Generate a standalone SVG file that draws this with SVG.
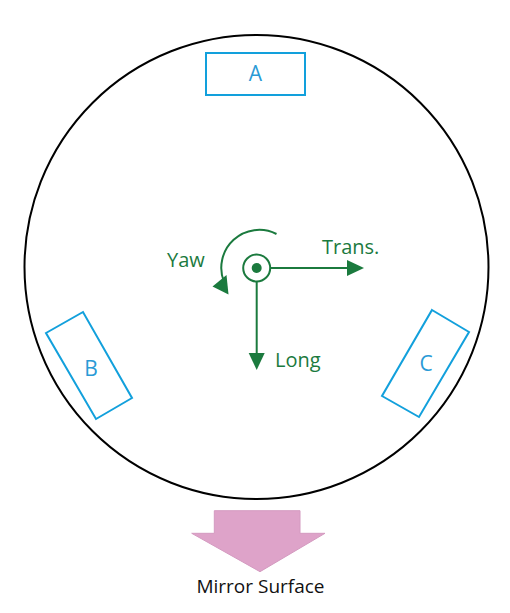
<svg xmlns="http://www.w3.org/2000/svg" width="510" height="613" viewBox="0 0 510 613">
<defs>
<style>
.box{fill:none;stroke:#12a0dc;stroke-width:2}
.blbl{font-family:"Open Sans","Noto Sans",sans-serif;font-size:21px;fill:#2a9ad6;text-anchor:middle}
.g{stroke:#1b7a3e;stroke-width:2;fill:none}
.glbl{font-family:"Open Sans","Noto Sans",sans-serif;font-size:20px;fill:#1b7a3e}
</style>
</defs>
<rect width="510" height="613" fill="#fff"/>
<g id="frame"><circle cx="256.5" cy="267" r="232" fill="none" stroke="#000" stroke-width="2"/></g>
<g id="A"><rect class="box" x="206" y="53" width="99" height="42"/><text class="blbl" x="255.5" y="81">A</text></g>
<g id="B"><polygon class="box" points="46,333 83,312 132,398 96,419"/><text class="blbl" x="91" y="376">B</text></g>
<g id="C"><polygon class="box" points="432,310 469,332 419,417 382,396"/><text class="blbl" x="426" y="371">C</text></g>
<g id="center"><circle cx="256.7" cy="268" r="13.5" fill="#fff" stroke="#1b7a3e" stroke-width="2"/><circle cx="256.7" cy="268" r="5" fill="#1b7a3e"/></g>
<g id="connectors">
<line class="g" x1="270.5" y1="268" x2="347" y2="268"/>
<polygon points="347,260 364,268 347,276" fill="#1b7a3e"/>
<line class="g" x1="256.7" y1="281.5" x2="256.7" y2="353"/>
<polygon points="248.7,353 256.7,370 264.7,353" fill="#1b7a3e"/>
<path class="g" d="M276.5,234 A38,38 0 0 0 224,282"/>
<polygon points="212.5,286.5 228.5,294.5 226.5,275" fill="#1b7a3e"/>
</g>
<g id="labels">
<text class="glbl" x="167" y="267">Yaw</text>
<text class="glbl" x="322" y="254">Trans.</text>
<text class="glbl" x="275" y="367">Long</text>
</g>
<g id="mirror">
<polygon points="214.3,510.7 300,510.7 300,533.3 325,533.3 260,571.7 191.7,533.3 214.3,533.3" fill="#dea3c9" stroke="#d49ac0" stroke-width="1"/>
<text x="260.5" y="593" font-family="'Open Sans','Noto Sans',sans-serif" font-size="19" fill="#111" text-anchor="middle">Mirror Surface</text>
</g>
</svg>
